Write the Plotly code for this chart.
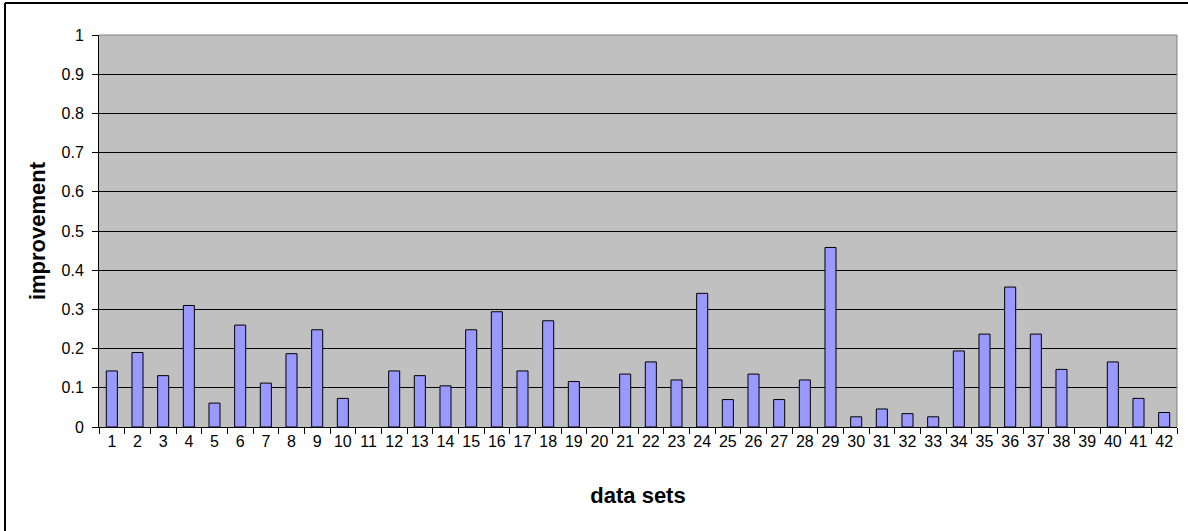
import plotly.graph_objects as go

# Improvement score per data set (1..42)
data_sets = [str(i) for i in range(1, 43)]
improvement = [
    0.143, 0.190, 0.131, 0.310, 0.061, 0.260, 0.112, 0.187, 0.248, 0.073,
    0.0,   0.143, 0.131, 0.105, 0.248, 0.294, 0.143, 0.271, 0.116, 0.0,
    0.135, 0.166, 0.120, 0.341, 0.070, 0.135, 0.070, 0.120, 0.458, 0.026,
    0.046, 0.034, 0.026, 0.194, 0.237, 0.357, 0.237, 0.147, 0.0,   0.166,
    0.073, 0.037,
]
y_ticks = [0, 0.1, 0.2, 0.3, 0.4, 0.5, 0.6, 0.7, 0.8, 0.9, 1]
y_tick_labels = ["0", "0.1", "0.2", "0.3", "0.4", "0.5", "0.6", "0.7", "0.8", "0.9", "1"]

W, H = 1188, 531
ML, MR, MT, MB = 99, 11, 35, 104
pw, ph = W - ML - MR, H - MT - MB

# no outline on empty (zero-height) bars
outline_widths = [1 if v > 0 else 0 for v in improvement]

fig = go.Figure(
    go.Bar(
        x=data_sets,
        y=improvement,
        marker=dict(color="#9999FF", line=dict(color="#000000", width=outline_widths)),
        showlegend=False,
    )
)

font = "Arial, 'Liberation Sans', sans-serif"

fig.update_layout(
    width=W,
    height=H,
    margin=dict(l=ML, r=MR, t=MT, b=MB, pad=0),
    paper_bgcolor="#FFFFFF",
    plot_bgcolor="#C0C0C0",
    bargap=0.57,
    font=dict(family=font, size=16, color="#000000"),
    xaxis=dict(
        type="category",
        range=[-0.5, 41.5],
        showgrid=False,
        showline=True,
        linecolor="#000000",
        linewidth=1,
        ticks="outside",
        tickson="boundaries",
        ticklen=6,
        tickcolor="#000000",
        tickangle=0,
        tickfont=dict(family=font, size=16),
        automargin=False,
        title=dict(
            text="<b>data sets</b>",
            font=dict(family=font, size=22),
            standoff=38,
        ),
    ),
    yaxis=dict(
        range=[0, 1],
        tickvals=y_ticks,
        ticktext=y_tick_labels,
        showgrid=True,
        gridcolor="#000000",
        gridwidth=1,
        zeroline=False,
        showline=True,
        linecolor="#000000",
        linewidth=1,
        ticks="outside",
        ticklen=6,
        tickcolor="#000000",
        tickfont=dict(family=font, size=16),
        ticklabelstandoff=5,
        automargin=False,
        title=dict(
            text="<b>improvement</b>",
            font=dict(family=font, size=22),
            standoff=9,
        ),
    ),
)

# Grey frame on the top and right of the plotting area
fig.add_shape(type="line", xref="paper", yref="paper", x0=0, x1=1, y0=1, y1=1,
              line=dict(color="#808080", width=1))
fig.add_shape(type="line", xref="paper", yref="paper", x0=1, x1=1, y0=0, y1=1,
              line=dict(color="#808080", width=1))

# Outer chart border (left and top edges)
bx = (5 - ML) / pw
by = (H - MB - 3) / ph
fig.add_shape(type="line", xref="paper", yref="paper", x0=bx, x1=bx, y0=by, y1=-0.4,
              line=dict(color="#000000", width=2))
fig.add_shape(type="line", xref="paper", yref="paper", x0=bx, x1=1.2, y0=by, y1=by,
              line=dict(color="#000000", width=2))

fig.write_html("out.html")
